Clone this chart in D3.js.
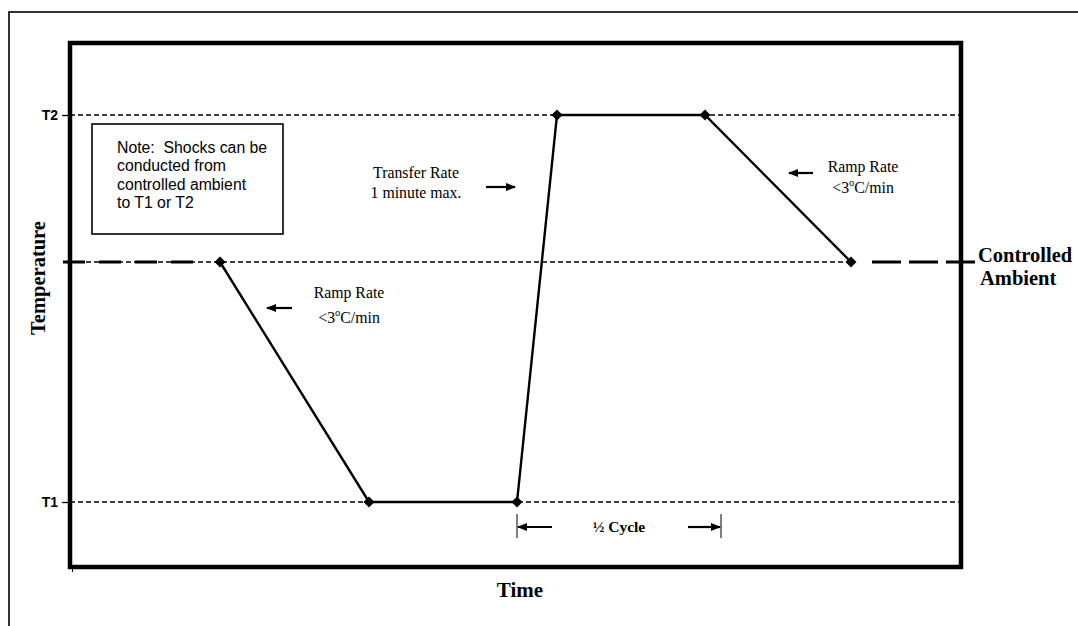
<!DOCTYPE html>
<html>
<head>
<meta charset="utf-8">
<script src="https://cdn.jsdelivr.net/npm/d3@7"></script>
<style>
  body { margin: 0; background: #fff; }
  svg { display: block; }
</style>
</head>
<body>
<svg id="chart"></svg>
<script>
// thermal shock profile - temperature vs time (arbitrary units)
const timePts = [150, 299, 447, 487, 635, 781];
const tempPts = [305, 65, 65, 452, 452, 305];

// reference temperature levels
const levelNames = ["T1", "T2"];
const levelValues = [65, 452];
const ambientValue = 305;

// half cycle span
const halfCycle = [447, 651];

const W = 1078, H = 626;
const svg = d3.select("#chart").attr("width", W).attr("height", H);

// plot area
const pLeft = 70, pTop = 43, pRight = 961, pBottom = 567;

const x = d3.scaleLinear().domain([0, 891]).range([pLeft, pRight]);
const y = d3.scaleLinear().domain([0, 524]).range([pBottom, pTop]);

const serif = "'Liberation Serif', 'Times New Roman', serif";
const sans = "'Liberation Sans', Arial, sans-serif";

// arrow head
svg.append("defs").append("marker")
    .attr("id", "head")
    .attr("viewBox", "0 0 10 8")
    .attr("refX", 9)
    .attr("refY", 4)
    .attr("markerWidth", 10)
    .attr("markerHeight", 8)
    .attr("markerUnits", "userSpaceOnUse")
    .attr("orient", "auto")
  .append("path")
    .attr("d", "M0,0 L10,4 L0,8 Z")
    .attr("fill", "#000");

// outer frame (runs off the right and bottom)
svg.append("rect")
    .attr("x", 9).attr("y", 12)
    .attr("width", W).attr("height", H)
    .attr("fill", "none")
    .attr("stroke", "#000")
    .attr("stroke-width", 1.6);

// thin dashed level lines T1, T2
svg.append("g").selectAll("line")
    .data(levelValues)
    .enter().append("line")
    .attr("x1", pLeft).attr("x2", pRight + 3)
    .attr("y1", d => y(d)).attr("y2", d => y(d))
    .attr("stroke", "#000")
    .attr("stroke-width", 1.3)
    .attr("stroke-dasharray", "5,3");

// thin dashed ambient line across plot
svg.append("line")
    .attr("x1", pLeft).attr("x2", x(timePts[5]))
    .attr("y1", y(ambientValue)).attr("y2", y(ambientValue))
    .attr("stroke", "#000")
    .attr("stroke-width", 1.3)
    .attr("stroke-dasharray", "5,3");

// thick long-dash ambient segments before and after the profile
const ambSegs = [[-7, timePts[0] - 14], [timePts[5] + 21, 905]];
svg.append("g").selectAll("line")
    .data(ambSegs)
    .enter().append("line")
    .attr("x1", d => x(d[0])).attr("x2", d => x(d[1]))
    .attr("y1", y(ambientValue)).attr("y2", y(ambientValue))
    .attr("stroke", "#000")
    .attr("stroke-width", 3.2)
    .attr("stroke-dasharray", (d, i) => i === 0 ? "22,14" : "29,8");

// y axis ticks
const yAxis = d3.axisLeft(y)
    .tickValues(levelValues)
    .tickFormat((d, i) => levelNames[i])
    .tickSize(8)
    .tickPadding(4);

const ya = svg.append("g")
    .attr("transform", `translate(${pLeft},0)`)
    .call(yAxis);
ya.select(".domain").remove();
ya.selectAll(".tick line").attr("stroke-width", 1.3);
ya.selectAll(".tick text")
    .attr("font-family", sans)
    .attr("font-weight", "bold")
    .attr("font-size", "14px")
    .attr("fill", "#000");

// x axis - single tick at origin
const xAxis = d3.axisBottom(x).tickValues([2]).tickFormat("").tickSize(5);
const xa = svg.append("g")
    .attr("transform", `translate(0,${pBottom})`)
    .call(xAxis);
xa.select(".domain").remove();

// plot frame
svg.append("rect")
    .attr("x", pLeft).attr("y", pTop)
    .attr("width", pRight - pLeft).attr("height", pBottom - pTop)
    .attr("fill", "none")
    .attr("stroke", "#000")
    .attr("stroke-width", 4.5);

// profile line
const pts = timePts.map((t, i) => [t, tempPts[i]]);
const line = d3.line().x(d => x(d[0])).y(d => y(d[1]));

svg.append("path")
    .datum(pts)
    .attr("d", line)
    .attr("fill", "none")
    .attr("stroke", "#000")
    .attr("stroke-width", 2.4);

// diamond markers
svg.append("g").selectAll("path")
    .data(pts)
    .enter().append("path")
    .attr("d", d3.symbol(d3.symbolSquare, 60))
    .attr("transform", d => `translate(${x(d[0])},${y(d[1])}) rotate(45)`)
    .attr("fill", "#000");

// note box
svg.append("rect")
    .attr("x", x(22)).attr("y", y(443))
    .attr("width", 191).attr("height", 110)
    .attr("fill", "#fff")
    .attr("stroke", "#000")
    .attr("stroke-width", 1.6);

const noteLines = ["Note:  Shocks can be", "conducted from", "controlled ambient", "to T1 or T2"];
svg.append("text")
    .attr("font-family", sans)
    .attr("font-size", "15.8px")
    .attr("fill", "#000")
    .style("white-space", "pre")
    .selectAll("tspan")
    .data(noteLines)
    .enter().append("tspan")
    .attr("x", x(47))
    .attr("y", (d, i) => y(414) + i * 18.3)
    .text(d => d);

// annotation helper: two lines of serif text
function label(cx, yTop, lines, gap) {
    const t = svg.append("text")
        .attr("font-family", serif)
        .attr("font-size", "15.8px")
        .attr("text-anchor", "middle")
        .attr("fill", "#000");
    lines.forEach((l, i) => {
        const ts = t.append("tspan").attr("x", cx).attr("y", yTop + i * gap);
        if (l.indexOf("°") >= 0) {
            ts.text("<3");
            ts.append("tspan").attr("font-size", "10.5px").attr("dy", -7).text("o");
            ts.append("tspan").attr("dy", 7).text("C/min");
        } else {
            ts.text(l);
        }
    });
}

function arrow(x1, x2, yy) {
    svg.append("line")
        .attr("x1", x1).attr("x2", x2)
        .attr("y1", yy).attr("y2", yy)
        .attr("stroke", "#000")
        .attr("stroke-width", 2.2)
        .attr("marker-end", "url(#head)");
}

label(x(346), y(389), ["Transfer Rate", "1 minute max."], 20);
arrow(x(416), x(445), y(380));

label(x(279), y(269), ["Ramp Rate", "<3°C/min"], 25);
arrow(x(222), x(197), y(259));

label(x(793), y(395), ["Ramp Rate", "<3°C/min"], 21);
arrow(x(743), x(719), y(394));

// half cycle bracket
const hy = y(40);
svg.append("g").selectAll("line")
    .data(halfCycle)
    .enter().append("line")
    .attr("x1", d => x(d)).attr("x2", d => x(d))
    .attr("y1", hy - 13).attr("y2", hy + 11)
    .attr("stroke", "#000")
    .attr("stroke-width", 1);
arrow(x(halfCycle[0] + 35), x(halfCycle[0] + 1), hy);
arrow(x(halfCycle[1] - 33), x(halfCycle[1] - 1), hy);
svg.append("text")
    .attr("x", x((halfCycle[0] + halfCycle[1]) / 2))
    .attr("y", hy + 5)
    .attr("text-anchor", "middle")
    .attr("font-family", serif)
    .attr("font-weight", "bold")
    .attr("font-size", "15.5px")
    .text("½ Cycle");

// controlled ambient label
svg.append("text")
    .attr("font-family", serif)
    .attr("font-weight", "bold")
    .attr("font-size", "20.5px")
    .selectAll("tspan")
    .data(["Controlled", "Ambient"])
    .enter().append("tspan")
    .attr("x", pRight + 17)
    .attr("dx", (d, i) => i * 2)
    .attr("y", (d, i) => y(ambientValue) + i * 23)
    .text(d => d);

// axis titles
svg.append("text")
    .attr("transform", `translate(45,${(pTop + pBottom) / 2 - 27}) rotate(-90)`)
    .attr("text-anchor", "middle")
    .attr("font-family", serif)
    .attr("font-weight", "bold")
    .attr("font-size", "20.5px")
    .text("Temperature");

svg.append("text")
    .attr("x", x(450))
    .attr("y", 597)
    .attr("text-anchor", "middle")
    .attr("font-family", serif)
    .attr("font-weight", "bold")
    .attr("font-size", "21px")
    .text("Time");
</script>
</body>
</html>
